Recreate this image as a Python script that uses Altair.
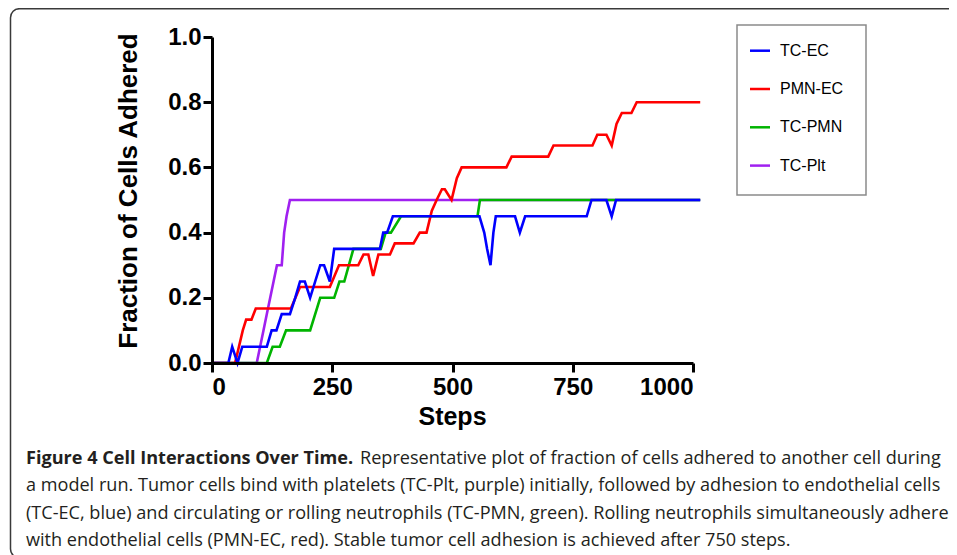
import altair as alt
import pandas as pd

# ---------------- data ----------------
SERIES = ["TC-EC", "PMN-EC", "TC-PMN", "TC-Plt"]
COLORS = ["#0000FF", "#FF0000", "#00B400", "#A020F0"]

tc_ec_steps = [0, 34, 42, 53, 63, 114, 124, 134, 145, 162, 173, 183, 193, 204, 225, 233, 245, 254,
               349, 356, 364, 376, 556, 566, 572, 579, 585, 590, 630, 640, 651, 779, 789, 820, 831, 840, 1015]
tc_ec_vals = [0, 0, 0.05, 0, 0.05, 0.05, 0.10, 0.10, 0.15, 0.15, 0.20, 0.25, 0.25, 0.20, 0.30, 0.30, 0.25, 0.35,
              0.35, 0.40, 0.40, 0.45, 0.45, 0.40, 0.35, 0.30, 0.40, 0.45, 0.45, 0.40, 0.45, 0.45, 0.50, 0.50, 0.45, 0.50, 0.50]

pmn_ec_steps = [0, 48, 64, 71, 82, 91, 164, 183, 245, 264, 304, 315, 325, 335, 346, 370, 380, 419, 432, 446,
                457, 467, 478, 484, 498, 509, 519, 612, 623, 699, 710, 791, 801, 820, 831, 841, 852, 872, 883, 1015]
pmn_ec_vals = [0, 0, 0.100, 0.133, 0.133, 0.167, 0.167, 0.233, 0.233, 0.300, 0.300, 0.333, 0.333, 0.267, 0.333,
               0.333, 0.367, 0.367, 0.400, 0.400, 0.467, 0.500, 0.533, 0.533, 0.500, 0.567, 0.600, 0.600, 0.633,
               0.633, 0.667, 0.667, 0.700, 0.700, 0.667, 0.733, 0.767, 0.767, 0.800, 0.800]

tc_pmn_steps = [0, 114, 126, 141, 154, 204, 225, 254, 265, 275, 294, 351, 361, 372, 393, 552, 557, 1015]
tc_pmn_vals = [0, 0, 0.05, 0.05, 0.10, 0.10, 0.20, 0.20, 0.25, 0.25, 0.35, 0.35, 0.40, 0.40, 0.45, 0.45, 0.50, 0.50]

tc_plt_steps = [0, 93, 100, 107, 114, 121, 128, 135, 145, 150, 155, 162, 1015]
tc_plt_vals = [0, 0, 0.05, 0.10, 0.15, 0.20, 0.25, 0.30, 0.30, 0.40, 0.45, 0.50, 0.50]

X_TICKS = [0, 250, 500, 750, 1000]
Y_TICKS = [0.0, 0.2, 0.4, 0.6, 0.8, 1.0]

CAPTION_BOLD = "Figure 4 Cell Interactions Over Time."
CAPTION_LINES = [
    "Representative plot of fraction of cells adhered to another cell during",
    "a model run. Tumor cells bind with platelets (TC-Plt, purple) initially, followed by adhesion to endothelial cells",
    "(TC-EC, blue) and circulating or rolling neutrophils (TC-PMN, green). Rolling neutrophils simultaneously adhere",
    "with endothelial cells (PMN-EC, red). Stable tumor cell adhesion is achieved after 750 steps.",
]

# ---------------- build table ----------------
frames = []
for name, st, va in [("TC-EC", tc_ec_steps, tc_ec_vals), ("PMN-EC", pmn_ec_steps, pmn_ec_vals),
                     ("TC-PMN", tc_pmn_steps, tc_pmn_vals), ("TC-Plt", tc_plt_steps, tc_plt_vals)]:
    frames.append(pd.DataFrame({"series": name, "step": st, "value": va, "idx": range(len(st))}))
df = pd.concat(frames, ignore_index=True)

W, H = 481, 326
AXFONT = "Liberation Sans"
color_scale = alt.Scale(domain=SERIES, range=COLORS)

xenc = alt.X("step:Q", scale=alt.Scale(domain=[0, 1000], nice=False, zero=True),
             axis=alt.Axis(values=X_TICKS, format="d", title=None, labelFontSize=24,
                           labelPadding=3, zindex=1))
yenc = alt.Y("value:Q", scale=alt.Scale(domain=[0, 1], nice=False),
             axis=alt.Axis(values=Y_TICKS, format=".1f", title=None, labelFontSize=24,
                           labelPadding=2, zindex=1))

base = alt.Chart(df).encode(x=xenc, y=yenc,
                            color=alt.Color("series:N", scale=color_scale, legend=None),
                            order=alt.Order("idx:Q"))
draw_order = ["TC-Plt", "TC-PMN", "PMN-EC", "TC-EC"]
line_layers = [base.transform_filter(alt.datum.series == s).mark_line(strokeWidth=2.6)
               for s in draw_order]

one = alt.Data(values=[{}])

# frame around the figure
frame = alt.Chart(one).mark_rect(fill="transparent", stroke="#3a3a3a", strokeWidth=1.5,
                                 cornerRadius=9).encode(
    x=alt.value(-201.5), x2=alt.value(800), y=alt.value(-28.3), y2=alt.value(521))

# legend (drawn by hand)
leg_box = alt.Chart(one).mark_rect(fill="white", stroke="#8a8a8a", strokeWidth=1.5).encode(
    x=alt.value(525), x2=alt.value(654), y=alt.value(-12), y2=alt.value(158))
leg_layers = [leg_box]
for i, (name, col) in enumerate(zip(SERIES, COLORS)):
    yy = 13.7 + i * 38.3
    leg_layers.append(alt.Chart(one).mark_rule(color=col, strokeWidth=2.5).encode(
        x=alt.value(538), x2=alt.value(558), y=alt.value(yy)))
    leg_layers.append(alt.Chart(one).mark_text(text=name, align="left", baseline="middle",
                                               font=AXFONT, fontSize=16, color="black").encode(
        x=alt.value(568), y=alt.value(yy)))

# axis titles
ytitle = alt.Chart(one).mark_text(text="Fraction of Cells Adhered", angle=270, align="center",
                                  baseline="alphabetic", font=AXFONT, fontWeight="bold",
                                  fontSize=26, color="black").encode(
    x=alt.value(-75), y=alt.value(154))
xtitle = alt.Chart(one).mark_text(text="Steps", align="center", baseline="alphabetic",
                                  font=AXFONT, fontWeight="bold", fontSize=25,
                                  color="black").encode(
    x=alt.value(240.5), y=alt.value(388))

# caption
CAPFONT = "Open Sans"
CAPSIZE = 18.1
cap_layers = [
    alt.Chart(one).mark_text(text=CAPTION_BOLD, align="left", baseline="alphabetic", font=CAPFONT,
                             fontWeight="bold", fontSize=CAPSIZE, color="#231f20").encode(
        x=alt.value(-186), y=alt.value(427))
]
cap_x = [148, -186, -186, -186]
cap_y = [427, 454, 481.5, 508.5]
for t, cx, cy in zip(CAPTION_LINES, cap_x, cap_y):
    cap_layers.append(alt.Chart(one).mark_text(text=t, align="left", baseline="alphabetic",
                                               font=CAPFONT, fontSize=CAPSIZE,
                                               color="#231f20").encode(
        x=alt.value(cx), y=alt.value(cy)))

chart = alt.layer(frame, *line_layers, *leg_layers, ytitle, xtitle, *cap_layers).properties(
    width=W, height=H,
    padding={"left": 204, "top": 29, "right": 256, "bottom": 192},
    autosize=alt.AutoSizeParams(type="none"),
).configure_view(stroke=None).configure_axis(
    domainColor="black", domainWidth=3, tickColor="black", tickWidth=3, tickSize=9,
    labelFont=AXFONT, labelFontWeight="bold", labelColor="black", grid=False
)

chart.save("out.html", embed_options={"renderer": "svg", "actions": False})
